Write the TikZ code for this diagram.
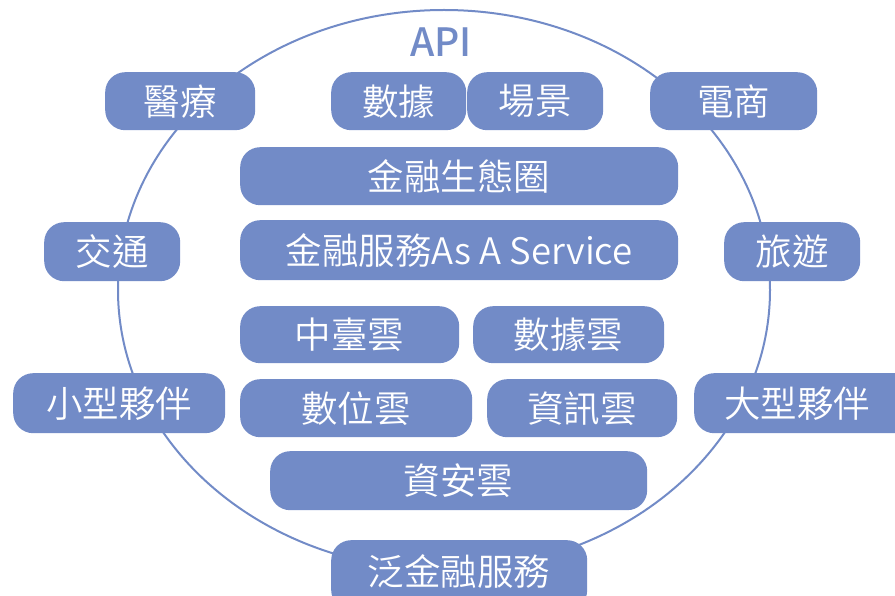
\documentclass[tikz,border=0pt]{standalone}
\usepackage{fontspec}
\setmainfont{Noto Sans CJK TC}[UprightFont={* DemiLight}]
\newfontfamily\apifont{Noto Sans CJK TC}[UprightFont={* Medium}]
\definecolor{boxblue}{RGB}{114,139,199}
\begin{document}
\begin{tikzpicture}[x=1pt,y=-1pt,
  box/.style={fill=boxblue,draw=none,rounded corners=20pt,text=white,
    font=\fontsize{36.5}{40}\selectfont,inner sep=0pt,anchor=north west},
  ring/.style={draw=boxblue,line width=2pt}]
\useasboundingbox (0,0) rectangle (895,596);
\begin{scope}
\clip (0,0) rectangle (895,596);
\draw[ring] (444,290) ellipse [x radius=326, y radius=280];
\node[text=boxblue,font=\apifont\fontsize{39}{42}\selectfont] (api) at (441,42) {API};
\newcommand{\bx}[6]{\node[box,minimum width=#4-#2,minimum height=#5-#3] (#1) at (#2,#3) {#6};}
\bx{yiliao}{105}{72}{255}{130}{醫療}
\bx{shuju}{331}{72}{466}{130}{數據}
\bx{changjing}{467}{72}{603}{130}{場景}
\bx{dianshang}{650}{72}{817}{130}{電商}
\bx{shengtai}{240}{147}{678}{205}{金融生態圈}
\bx{jiaotong}{44}{222}{180}{281}{交通}
\bx{faas}{240}{220}{678}{280}{金融服務As A Service}
\bx{lvyou}{724}{222}{860}{281}{旅遊}
\bx{zhongtai}{240}{306}{459}{363}{中臺雲}
\bx{shujuyun}{473}{306}{664}{363}{數據雲}
\bx{xiaoxing}{13}{373}{225}{433}{小型夥伴}
\bx{shuwei}{240}{379}{472}{437}{數位雲}
\bx{zixun}{487}{379}{677}{437}{資訊雲}
\bx{daxing}{694}{373}{915}{433}{\hspace*{-15pt}大型夥伴}
\bx{zian}{270}{451}{647}{510}{資安雲}
\bx{fanjr}{331}{540}{587}{610}{\raisebox{10pt}{泛金融服務}}
\end{scope}
\end{tikzpicture}
\end{document}
